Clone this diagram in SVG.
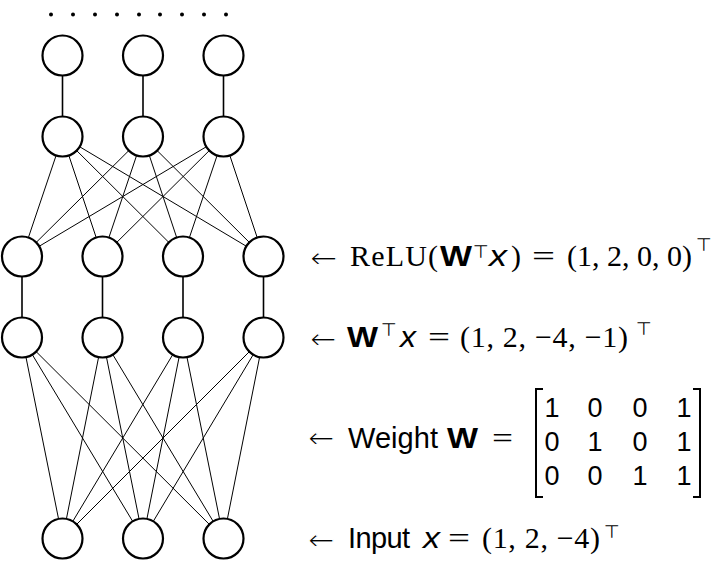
<svg xmlns="http://www.w3.org/2000/svg" width="720" height="574" viewBox="0 0 720 574">
<style>
.node{fill:#fff;stroke:#000;stroke-width:2.2}
.v{stroke:#000;stroke-width:1.6}
.d{stroke:#000;stroke-width:1}
.sf{font-family:"Liberation Serif","DejaVu Serif",serif;font-size:30px;fill:#000}
.ss{font-family:"Liberation Sans","DejaVu Sans",sans-serif;font-size:29px;fill:#000}
.b{font-weight:bold}
.i{font-style:italic}
.ar{font-family:"DejaVu Sans",sans-serif;font-size:30px;fill:#000;stroke:#fff;stroke-width:1.1}
.sym{font-family:"DejaVu Sans",sans-serif;font-size:18px;fill:#000}
.mx{font-family:"Liberation Sans","DejaVu Sans",sans-serif;font-size:27px;fill:#000;text-anchor:middle}
.br{fill:none;stroke:#000;stroke-width:2}
</style>
<rect width="720" height="574" fill="#fff"/>
<g id="dots" fill="#000">
<circle cx="51" cy="14.5" r="2"/><circle cx="73" cy="14.5" r="2"/><circle cx="95" cy="14.5" r="2"/>
<circle cx="117" cy="14.5" r="2"/><circle cx="139" cy="14.5" r="2"/><circle cx="160" cy="14.5" r="2"/>
<circle cx="182" cy="14.5" r="2"/><circle cx="204" cy="14.5" r="2"/><circle cx="226" cy="14.5" r="2"/>
</g>
<g id="connectors">
<line class="v" x1="62.5" y1="55.5" x2="62.5" y2="136.5"/>
<line class="v" x1="143" y1="55.5" x2="143" y2="136.5"/>
<line class="v" x1="223.5" y1="55.5" x2="223.5" y2="136.5"/>
<line class="d" x1="62.5" y1="136.5" x2="22" y2="256.5"/>
<line class="d" x1="62.5" y1="136.5" x2="102.5" y2="256.5"/>
<line class="d" x1="62.5" y1="136.5" x2="183" y2="256.5"/>
<line class="d" x1="62.5" y1="136.5" x2="263.5" y2="256.5"/>
<line class="d" x1="143" y1="136.5" x2="22" y2="256.5"/>
<line class="d" x1="143" y1="136.5" x2="102.5" y2="256.5"/>
<line class="d" x1="143" y1="136.5" x2="183" y2="256.5"/>
<line class="d" x1="143" y1="136.5" x2="263.5" y2="256.5"/>
<line class="d" x1="223.5" y1="136.5" x2="22" y2="256.5"/>
<line class="d" x1="223.5" y1="136.5" x2="102.5" y2="256.5"/>
<line class="d" x1="223.5" y1="136.5" x2="183" y2="256.5"/>
<line class="d" x1="223.5" y1="136.5" x2="263.5" y2="256.5"/>
<line class="v" x1="22" y1="256.5" x2="22" y2="337.5"/>
<line class="v" x1="102.5" y1="256.5" x2="102.5" y2="337.5"/>
<line class="v" x1="183" y1="256.5" x2="183" y2="337.5"/>
<line class="v" x1="263.5" y1="256.5" x2="263.5" y2="337.5"/>
<line class="d" x1="22" y1="337.5" x2="62.5" y2="538.5"/>
<line class="d" x1="22" y1="337.5" x2="143" y2="538.5"/>
<line class="d" x1="22" y1="337.5" x2="223.5" y2="538.5"/>
<line class="d" x1="102.5" y1="337.5" x2="62.5" y2="538.5"/>
<line class="d" x1="102.5" y1="337.5" x2="143" y2="538.5"/>
<line class="d" x1="102.5" y1="337.5" x2="223.5" y2="538.5"/>
<line class="d" x1="183" y1="337.5" x2="62.5" y2="538.5"/>
<line class="d" x1="183" y1="337.5" x2="143" y2="538.5"/>
<line class="d" x1="183" y1="337.5" x2="223.5" y2="538.5"/>
<line class="d" x1="263.5" y1="337.5" x2="62.5" y2="538.5"/>
<line class="d" x1="263.5" y1="337.5" x2="143" y2="538.5"/>
<line class="d" x1="263.5" y1="337.5" x2="223.5" y2="538.5"/>
</g>
<g id="n1a"><circle class="node" cx="62.5" cy="55.5" r="20"/></g>
<g id="n1b"><circle class="node" cx="143" cy="55.5" r="20"/></g>
<g id="n1c"><circle class="node" cx="223.5" cy="55.5" r="20"/></g>
<g id="n2a"><circle class="node" cx="62.5" cy="136.5" r="20"/></g>
<g id="n2b"><circle class="node" cx="143" cy="136.5" r="20"/></g>
<g id="n2c"><circle class="node" cx="223.5" cy="136.5" r="20"/></g>
<g id="n3a"><circle class="node" cx="22" cy="256.5" r="20"/></g>
<g id="n3b"><circle class="node" cx="102.5" cy="256.5" r="20"/></g>
<g id="n3c"><circle class="node" cx="183" cy="256.5" r="20"/></g>
<g id="n3d"><circle class="node" cx="263.5" cy="256.5" r="20"/></g>
<g id="n4a"><circle class="node" cx="22" cy="337.5" r="20"/></g>
<g id="n4b"><circle class="node" cx="102.5" cy="337.5" r="20"/></g>
<g id="n4c"><circle class="node" cx="183" cy="337.5" r="20"/></g>
<g id="n4d"><circle class="node" cx="263.5" cy="337.5" r="20"/></g>
<g id="n5a"><circle class="node" cx="62.5" cy="538.5" r="20"/></g>
<g id="n5b"><circle class="node" cx="143" cy="538.5" r="20"/></g>
<g id="n5c"><circle class="node" cx="223.5" cy="538.5" r="20"/></g>

<g id="label-relu">
<text class="ar" x="310" y="268" textLength="28" lengthAdjust="spacingAndGlyphs">←</text>
<text class="sf" x="350" y="266" textLength="77">ReLU</text>
<text class="sf" x="428" y="266">(</text>
<text class="ss b" x="440" y="266" textLength="32" lengthAdjust="spacingAndGlyphs">W</text>
<text class="sym" x="473" y="258">⊤</text>
<text class="ss i" x="489" y="266" textLength="18" lengthAdjust="spacingAndGlyphs">x</text>
<text class="sf" x="511" y="266">)</text>
<text class="sf" x="532" y="266" textLength="23" lengthAdjust="spacingAndGlyphs">=</text>
<text class="sf" x="567" y="266" textLength="125">(1, 2, 0, 0)</text>
<text class="sym" x="696" y="251">⊤</text>
</g>
<g id="label-wx">
<text class="ar" x="310" y="349" textLength="27" lengthAdjust="spacingAndGlyphs">←</text>
<text class="ss b" x="347" y="347" textLength="31" lengthAdjust="spacingAndGlyphs">W</text>
<text class="sym" x="381" y="336">⊤</text>
<text class="ss i" x="400" y="347" textLength="16" lengthAdjust="spacingAndGlyphs">x</text>
<text class="sf" x="428" y="347" textLength="22" lengthAdjust="spacingAndGlyphs">=</text>
<text class="sf" x="460" y="347" textLength="168">(1, 2, −4, −1)</text>
<text class="sym" x="636" y="335">⊤</text>
</g>
<g id="label-weight">
<text class="ar" x="308" y="448" textLength="27" lengthAdjust="spacingAndGlyphs">←</text>
<text class="ss" x="348" y="448" textLength="90">Weight</text>
<text class="ss b" x="447" y="448" textLength="31" lengthAdjust="spacingAndGlyphs">W</text>
<text class="sf" x="492" y="448" textLength="21" lengthAdjust="spacingAndGlyphs">=</text>
<path class="br" d="M543,389 H536 V497 H543"/>
<path class="br" d="M693,389 H700 V497 H693"/>
<text class="mx" x="552" y="417">1</text><text class="mx" x="595" y="417">0</text><text class="mx" x="640" y="417">0</text><text class="mx" x="684" y="417">1</text>
<text class="mx" x="552" y="451">0</text><text class="mx" x="595" y="451">1</text><text class="mx" x="640" y="451">0</text><text class="mx" x="684" y="451">1</text>
<text class="mx" x="552" y="485">0</text><text class="mx" x="595" y="485">0</text><text class="mx" x="640" y="485">1</text><text class="mx" x="684" y="485">1</text>
</g>
<g id="label-input">
<text class="ar" x="308" y="550" textLength="27" lengthAdjust="spacingAndGlyphs">←</text>
<text class="ss" x="348" y="548" textLength="62">Input</text>
<text class="ss i" x="423" y="548" textLength="17" lengthAdjust="spacingAndGlyphs">x</text>
<text class="sf" x="448" y="548" textLength="22" lengthAdjust="spacingAndGlyphs">=</text>
<text class="sf" x="482" y="548" textLength="118">(1, 2, −4)</text>
<text class="sym" x="604" y="538">⊤</text>
</g>
</svg>
